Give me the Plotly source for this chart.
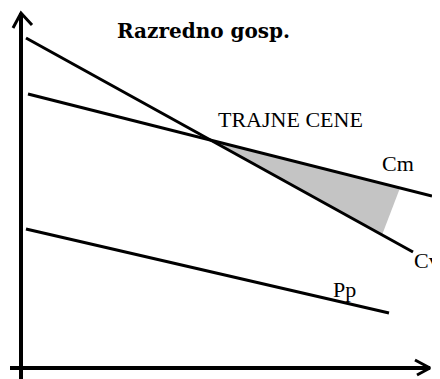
import plotly.graph_objects as go

# Coordinates in chart units (origin at the axes' crossing, y upward)
cv_x = [5, 392]
cv_y = [330, 116]
cm_x = [7, 411]
cm_y = [274, 172]
pp_x = [5, 368]
pp_y = [139, 55]
shade_x = [192, 379, 361, 192]
shade_y = [227, 180, 133, 227]
yaxis_x = [0, 0]
yaxis_y = [-11, 355]
xaxis_x = [-11, 409]
xaxis_y = [0, 0]
yarrow_x = [-8, 0, 11]
yarrow_y = [340, 355, 343]
xarrow_x = [394, 409, 396]
xarrow_y = [8, 0, -7]

labels = ["TRAJNE CENE", "Cm", "Cv", "Pp"]
label_x = [197, 361, 393, 312]
label_y = [247, 203, 106, 77]

SERIF = "Liberation Serif, Times New Roman, Times, DejaVu Serif, serif"

fig = go.Figure()
fig.add_trace(go.Scatter(x=shade_x, y=shade_y, mode="lines", fill="toself",
                         fillcolor="#c4c4c4", line=dict(width=0), hoverinfo="skip"))
for xs, ys, w in [(cv_x, cv_y, 3), (cm_x, cm_y, 3), (pp_x, pp_y, 3),
                  (yaxis_x, yaxis_y, 4), (xaxis_x, xaxis_y, 4),
                  (yarrow_x, yarrow_y, 3), (xarrow_x, xarrow_y, 3)]:
    fig.add_trace(go.Scatter(x=xs, y=ys, mode="lines",
                             line=dict(color="black", width=w), hoverinfo="skip"))

fig.add_trace(go.Scatter(x=label_x, y=label_y, mode="text", text=labels,
                         textposition="middle right", cliponaxis=False,
                         textfont=dict(family=SERIF, size=22, color="black"),
                         hoverinfo="skip"))

fig.add_annotation(x=182, y=337, xref="x", yref="y", text="<b>Razredno gosp.</b>",
                   showarrow=False,
                   font=dict(family="DejaVu Serif, Liberation Serif, serif", size=20, color="black"))

# page body has an 8px margin: shift the plotting window so the drawing lands in place
fig.update_layout(width=432, height=371, margin=dict(l=0, r=0, t=0, b=0),
                  paper_bgcolor="white", plot_bgcolor="white", showlegend=False,
                  xaxis=dict(range=[-13, 419], visible=False, fixedrange=True),
                  yaxis=dict(range=[-11, 360], visible=False, fixedrange=True))
fig.write_html("out.html", config={"displayModeBar": False})
